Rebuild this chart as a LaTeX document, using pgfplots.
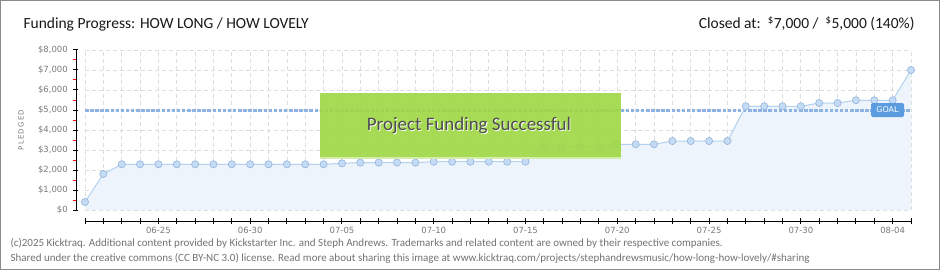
\documentclass[border=0pt]{standalone}
\usepackage{pgfplots}
\pgfplotsset{compat=1.18}
\usepackage{fontspec}
\setmainfont{Carlito}
\newfontfamily\tickfont{DejaVu Sans}
\definecolor{frame}{HTML}{8A8A8A}
\definecolor{gridc}{HTML}{DDDDDD}
\definecolor{linec}{HTML}{B3D1F0}
\definecolor{fillc}{HTML}{EDF4FC}
\definecolor{markf}{HTML}{C3DBF5}
\definecolor{markd}{HTML}{95B4DA}
\definecolor{goalc}{HTML}{8DB3E2}
\definecolor{goalbox}{HTML}{5B9BDF}
\definecolor{greenbox}{HTML}{9FD843}
\definecolor{labc}{HTML}{7A7A7A}
\pgfplotstableread{
x y
0 400
1 1800
2 2285
3 2285
4 2285
5 2285
6 2285
7 2285
8 2285
9 2285
10 2285
11 2285
12 2285
13 2285
14 2335
15 2370
16 2370
17 2370
18 2370
19 2415
20 2415
21 2415
22 2415
23 2415
24 2415
25 3170
26 3170
27 3170
28 3170
29 3285
30 3285
31 3285
32 3450
33 3450
34 3450
35 3450
36 5185
37 5185
38 5185
39 5185
40 5350
41 5350
42 5485
43 5485
44 5485
45 7000
}\pledged
\begin{document}
\begin{tikzpicture}
\path[use as bounding box] (0,0) rectangle (940pt,-270pt);
\fill[white] (0,0) rectangle (940pt,-270pt);
\draw[frame, line width=1.2pt] (0.6pt,-0.6pt) rectangle (939.4pt,-269.4pt);
\begin{axis}[
  at={(85pt,-210pt)}, anchor=south west,
  scale only axis, width=826pt, height=160pt,
  xmin=0, xmax=45, ymin=0, ymax=8000,
  axis line style={draw=none},
  major tick length=0pt,
  xtick={0,...,45}, xticklabels={},
  extra x ticks={4,9,14,19,24,29,34,39,44},
  extra x tick labels={06-25,06-30,07-05,07-10,07-15,07-20,07-25,07-30,08-04},
  extra x tick style={grid=none},
  ytick={0,1000,...,8000},
  yticklabels={\$0,\$1{,}000,\$2{,}000,\$3{,}000,\$4{,}000,\$5{,}000,\$6{,}000,\$7{,}000,\$8{,}000},
  grid=major,
  major grid style={gridc, dash pattern=on 4pt off 3pt, line width=0.8pt},
  yticklabel style={font=\tickfont\fontsize{8.5}{10}\selectfont, text=labc, inner sep=0pt, anchor=east},
  yticklabel shift=17pt,
  xticklabel style={font=\tickfont\fontsize{8.5}{10}\selectfont, text=labc, inner sep=0pt, anchor=north},
  xticklabel shift=17pt,
  clip=false,
  axis on top=false,
]
\addplot[draw=none, fill=fillc] table[x=x,y=y] {\pledged} \closedcycle;
\addplot[goalc, line width=3pt, dash pattern=on 3.5pt off 1.6pt] coordinates {(0,5000) (45,5000)};
\addplot[linec, line width=1pt, mark=*, mark size=3.6pt, mark options={fill=markf, draw=markd, line width=0.6pt}] table[x=x,y=y] {\pledged};
\end{axis}
% offset axis lines
\draw[black, line width=1pt] (76pt,-50pt) -- (76pt,-210pt);
\foreach \k in {0,...,8} {\draw[black, line width=1pt] (73pt,{-210pt+\k*20pt}) -- (78pt,{-210pt+\k*20pt});}
\foreach \k in {0,...,7} {\draw[red, line width=1pt] (73pt,{-200pt+\k*20pt}) -- (76pt,{-200pt+\k*20pt});}
\draw[black, line width=1pt] (85pt,-221pt) -- (911pt,-221pt);
\foreach \k in {0,...,45} {\draw[black, line width=1pt] ({85pt+\k*18.3556pt},-218pt) -- ({85pt+\k*18.3556pt},-224pt);}
% goal label
\fill[goalbox, rounded corners=1.5pt] (871pt,-103pt) rectangle (904pt,-117pt);
\node[white, font=\tickfont\fontsize{8}{9}\selectfont] at (887.5pt,-110pt) {GOAL};
% success box
\fill[greenbox, opacity=0.9] (320pt,-92.5pt) rectangle (621pt,-157pt);
\fill[greenbox!45!white] (320pt,-157pt) rectangle (621pt,-158.5pt);
\node[white, font=\fontsize{19}{21}\selectfont] at (469.8pt,-126.6pt) {Project Funding Successful};
\node[black!70, font=\fontsize{19}{21}\selectfont] at (469pt,-125.8pt) {Project Funding Successful};
% titles
\node[anchor=base west, black!90, font=\fontsize{15.5}{17}\selectfont] at (20pt,-29pt) {Funding Progress: HOW LONG / HOW LOVELY};
\node[anchor=base east, black!90, font=\fontsize{15.5}{17}\selectfont] at (918pt,-29pt) {Closed at:\ \ \textsuperscript{\$}7,000 /\ \ \textsuperscript{\$}5,000 (140\%)};
\node[rotate=90, labc, font=\tickfont\fontsize{7}{8}\selectfont] at (21pt,-130pt) {P\,L\,E\,D\,G\,E\,D};
% footer
\node[anchor=base west, black!55, font=\fontsize{11}{12}\selectfont] at (7pt,-246pt) {(c)2025 Kicktraq. Additional content provided by Kickstarter Inc. and Steph Andrews. Trademarks and related content are owned by their respective companies.};
\node[anchor=base west, black!55, font=\fontsize{11}{12}\selectfont] at (7pt,-261pt) {Shared under the creative commons (CC BY-NC 3.0) license. Read more about sharing this image at www.kicktraq.com/projects/stephandrewsmusic/how-long-how-lovely/\#sharing};
\end{tikzpicture}
\end{document}
